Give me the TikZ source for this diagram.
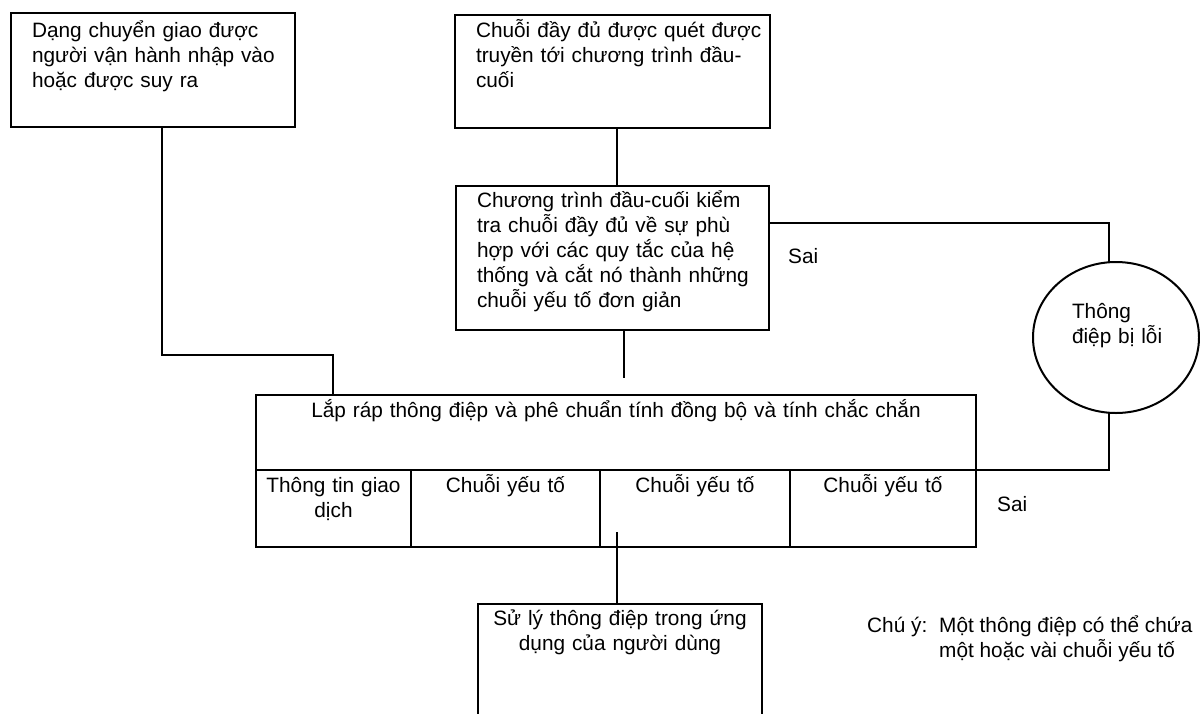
\documentclass[tikz,border=0pt]{standalone}
\usepackage{fontspec}
\setmainfont{Liberation Sans}
\usetikzlibrary{shapes.geometric}

\begin{document}
\begin{tikzpicture}[x=1pt,y=-1pt,font=\fontsize{20.8}{25}\selectfont,
    box/.style={draw, line width=2.7pt, inner sep=0pt, outer sep=0pt, anchor=north west, align=left,
      execute at begin node={\leftskip=21pt}},
    cell/.style={draw, line width=2.7pt, inner sep=0pt, outer sep=0pt, anchor=north west, align=center},
    link/.style={line width=1.7pt}]
  \clip (0,0) rectangle (1200,713);
  % boxes
  \node[box, text width=284pt, text height=24pt, text depth=90pt] (A) at (11,13)
    {Dạng chuyển giao được\\người vận hành nhập vào\\hoặc được suy ra};
  \node[box, text width=315pt, text height=22pt, text depth=91pt] (B) at (455,15)
    {Chuỗi đầy đủ được quét được\\truyền tới chương trình đầu-\\cuối};
  \node[box, text width=313pt, text height=21pt, text depth=123pt] (C) at (456,186)
    {Chương trình đầu-cuối kiểm\\tra chuỗi đầy đủ về sự phù\\hợp với các quy tắc của hệ\\thống và cắt nó thành những\\chuỗi yếu tố đơn giản};
  \node[draw, ellipse, line width=2pt, minimum width=166pt, minimum height=151pt, inner sep=0pt, outer sep=0pt,
    text width=104pt, align=left, text height=15pt, text depth=53pt,
    execute at begin node={\leftskip=8pt}] (err) at (1116,337.5)
    {Thông\\điệp bị lỗi};
  % message
  \node[cell, text width=720pt, text height=22pt, text depth=53pt] (asm) at (256,395)
    {Lắp ráp thông điệp và phê chuẩn tính đồng bộ và tính chắc chắn};
  \node[cell, text width=155pt, text height=22pt, text depth=55pt] (t1) at (asm.south west) {Thông tin giao\\dịch};
  \node[cell, text width=189pt, text height=22pt, text depth=55pt] (t2) at (t1.north east) {Chuỗi yếu tố};
  \node[cell, text width=190pt, text height=22pt, text depth=55pt] (t3) at (t2.north east) {Chuỗi yếu tố};
  \node[cell, text width=186pt, text height=22pt, text depth=55pt] (t4) at (t3.north east) {Chuỗi yếu tố};
  \node[cell, text width=284pt, text height=21pt, text depth=109pt] (D) at (478,604)
    {Sử lý thông điệp trong ứng\\dụng của người dùng};
  % labels
  \node[anchor=base west, inner sep=0pt] (sai1) at (788,263) {Sai};
  \node[anchor=base west, inner sep=0pt] (sai2) at (997,511) {Sai};
  \node[anchor=base west, inner sep=0pt] (note) at (867,632)
    {\begin{tabular}[t]{@{}p{72pt}@{}l@{}}Chú ý: & Một thông điệp có thể chứa\\ & một hoặc vài chuỗi yếu tố\end{tabular}};
  % links
  \coordinate (gap) at (624,378);
  \coordinate (tap) at (617,532);
  \draw[link] ([xshift=9pt]A.south) -- ++(0,228) -| ([xshift=77pt]asm.north west);
  \draw[link] ([xshift=4.5pt]B.south) -- ([xshift=4.5pt]C.north);
  \draw[link] (C.south -| gap) -- (gap);
  \draw[link] ([yshift=-37pt]C.north east) -| ([xshift=-7pt]err.north);
  \draw[link] ([xshift=-7pt]err.south) |- (asm.south east);
  \draw[link] (tap) -- (tap |- D.north);
\end{tikzpicture}
\end{document}
